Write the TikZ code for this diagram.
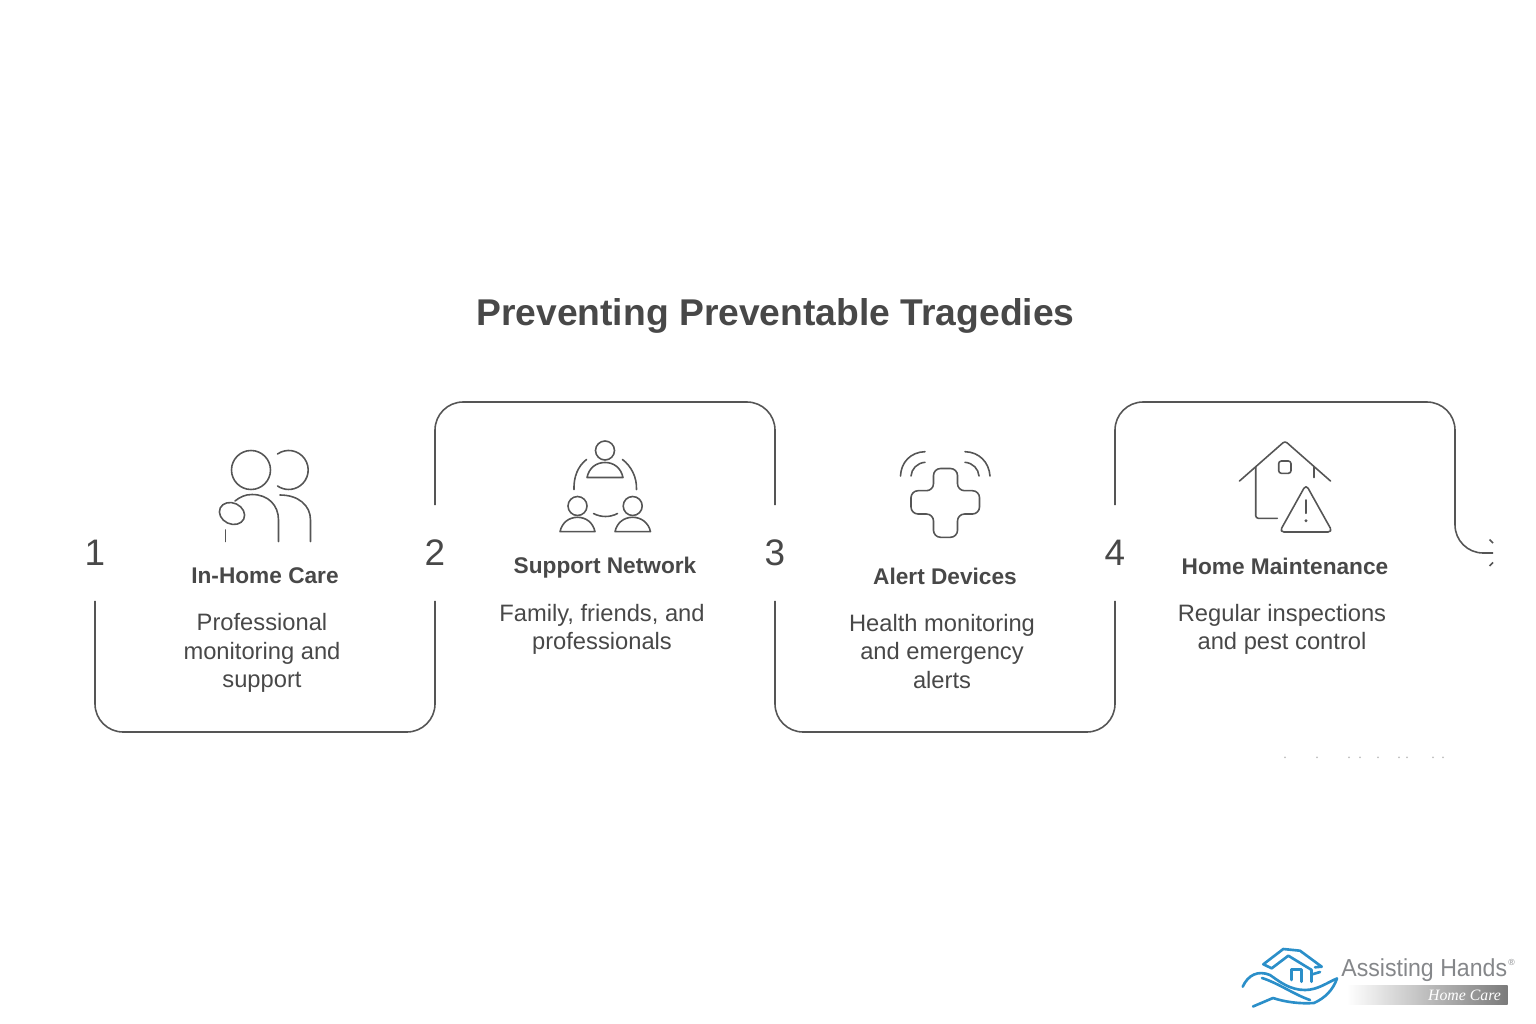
\documentclass[tikz,border=0pt]{standalone}
\usepackage{fontspec}
\setmainfont{Liberation Sans}
\newfontfamily\careserif{Liberation Serif}
\usepackage{xcolor}
\usetikzlibrary{positioning}
\definecolor{ink}{HTML}{484848}
\definecolor{wire}{HTML}{555555}
\definecolor{logoblue}{HTML}{2B8FC9}
\definecolor{logogray}{HTML}{85878A}
\tikzset{num/.style={minimum width=1cm,minimum height=1.9cm,inner sep=0,text=ink,font=\fontsize{21}{24}\selectfont},
    head/.style={text=ink,inner sep=0,font=\fontsize{12.9}{16}\selectfont\bfseries},
    body/.style={text=ink,inner sep=0,align=center,font=\fontsize{13.5}{16.2}\selectfont},
    wireline/.style={draw=wire,line width=0.9pt},
    icon/.style={draw=wire,line width=0.9pt,line cap=round,line join=round},
    logoline/.style={draw=logoblue,line width=1.5pt,line join=round,line cap=round}}

\begin{document}
\begin{tikzpicture}[x=0.02cm,y=0.02cm,>=stealth]
        \useasboundingbox (0,0) rectangle (1536,-1024);
        \node[text=ink,inner sep=0,font=\fontsize{21.2}{26}\selectfont\bfseries] (title)at (775.5,-316) {Preventing Preventable Tragedies};

        \node[num] (a)at (95,-553) {1};
        \node[num] (b)at (435,-553) {2};
        \node[num] (c)at (775,-553) {3};
        \node[num] (d)at (1115,-553) {4};
        \coordinate (low) at (0,-732);
        \coordinate (top) at (0,-402);
        \coordinate (tip) at (1493,-553);
        \coordinate (tipa) at (1489.5,-539.5);
        \coordinate (tipb) at (1489.5,-566);

        \draw [wireline,rounded corners=16pt] (a.south) -- (a.south |- low) -- (b.south |- low) -- (b.south);
        \draw [wireline,rounded corners=16pt] (b.north) -- (b.north |- top) -- (c.north |- top) -- (c.north);
        \draw [wireline,rounded corners=16pt] (c.south) -- (c.south |- low) -- (d.south |- low) -- (d.south);
        \draw [wireline,rounded corners=16pt] (d.north) -- (d.north |- top) -- (1455,-402) -- (1455,-553) -- (tip);
        \draw [wireline] (tipa) -- (1493,-543);
        \draw [wireline] (tipb) -- (1493,-562.5);

        \node[head] (h1)at (265,-576) {In-Home Care};
        \node[head] (h2)at (605,-568) {Support Network};
        \node[head] (h3)at (945,-576) {Alert Devices};
        \node[head] (h4)at (1285,-566.5) {Home Maintenance};

        \node[body] (t1)at (262,-653) {Professional\\monitoring and\\support};
        \node[body] (t2)at (602,-629.5) {Family, friends, and\\professionals};
        \node[body] (t3)at (942,-651.5) {Health monitoring\\and emergency\\alerts};
        \node[body] (t4)at (1282,-629.5) {Regular inspections\\and pest control};

        % people
        \draw [icon] (251,-470) circle [radius=19.5];
        \draw [icon] (277.5,-454) arc [start angle=125,end angle=-125,radius=19.5];
        \draw [icon,rotate around={-25:(232,-513.5)}] (232,-513.5) ellipse [x radius=13,y radius=10.5];
        \draw [icon] (235,-501) .. controls (240,-497) and (245,-494.5) .. (252,-494.5) .. controls (268,-494.5) and (278.5,-505) .. (278.5,-520) -- (278.5,-541.5);
        \draw [icon] (280,-495) .. controls (298,-495) and (310.5,-505) .. (310.5,-520) -- (310.5,-541.5);
        \draw [icon] (225.7,-530) -- (225.7,-541.5);

        % network
        \draw [icon] (605,-450.5) circle [radius=9.5];
        \draw [icon] (587,-477.5) .. controls (589,-468) and (596,-462.5) .. (605,-462.5) .. controls (614,-462.5) and (621,-468) .. (623,-477.5) -- cycle;
        \draw [icon] (586.5,-459.5) .. controls (578,-466) and (573.5,-477) .. (574,-489.5);
        \draw [icon] (622.5,-459.5) .. controls (631,-466) and (637,-477) .. (636.5,-489.5);
        \draw [icon] (577.5,-506) circle [radius=9.5];
        \draw [icon] (560,-531.7) .. controls (562,-522.5) and (569,-517.3) .. (577.5,-517.3) .. controls (586,-517.3) and (593,-522.5) .. (595,-531.7) -- cycle;
        \draw [icon] (632.7,-506) circle [radius=9.5];
        \draw [icon] (615,-531.7) .. controls (617,-522.5) and (624,-517.3) .. (632.7,-517.3) .. controls (641,-517.3) and (648.5,-522.5) .. (650.5,-531.7) -- cycle;
        \draw [icon] (593.5,-513.5) .. controls (601,-517.5) and (610,-517.5) .. (617.5,-513.5);

        % cross
        \draw [icon,rounded corners=4pt] (933.5,-468.5) -- (957.5,-468.5) -- (957.5,-490.7) -- (979.5,-490.7) -- (979.5,-514) -- (957.5,-514) -- (957.5,-537.3) -- (933.5,-537.3) -- (933.5,-514) -- (911,-514) -- (911,-490.7) -- (933.5,-490.7) -- cycle;
        \draw [icon] (900.5,-476) .. controls (901,-462) and (911,-452) .. (925,-451.7);
        \draw [icon] (911,-476) .. controls (911.5,-469) and (917,-463) .. (925,-462.3);
        \draw [icon] (965,-451.7) .. controls (979,-452) and (989,-462) .. (990,-476);
        \draw [icon] (965,-462.3) .. controls (973,-463) and (978.5,-469) .. (979,-476);

        % house
        \draw [icon,rounded corners=1.5pt] (1239.5,-481) -- (1285,-441) -- (1330.5,-481);
        \draw [icon,rounded corners=1.5pt] (1255.7,-467) -- (1255.7,-518.3) -- (1277.3,-518.3);
        \draw [icon] (1314,-467) -- (1314,-477.5);
        \draw [icon,rounded corners=1.5pt] (1278.7,-461) rectangle (1291,-473.3);
        \draw [icon,rounded corners=2.5pt] (1306,-484.5) -- (1332.5,-532) -- (1279.5,-532) -- cycle;
        \draw [icon] (1306,-500) -- (1306,-513.3);
        \fill [wire] (1306,-520.7) circle [radius=1.6];

        % specks
        \foreach \sx in {1285,1317,1349,1360,1378,1399,1407,1433,1443}
            \fill [black!25] (\sx,-757.3) circle [radius=1];

        % logo
        \draw [logoline] (1271.7,-968.3) -- (1263.3,-964.3) -- (1283.3,-949) -- (1300,-950.7) -- (1321.7,-966.7) -- (1315,-967.3);
        \draw [logoline] (1271.7,-968.3) -- (1288.3,-955.7) -- (1311.7,-970);
        \draw [logoline] (1291.7,-980) -- (1291.7,-969.3) -- (1301.7,-969.3) -- (1301.7,-981.7);
        \draw [logoline] (1311.7,-970) -- (1311.7,-981.7);
        \draw [logoline] (1311.7,-974.5) -- (1320,-972);
        \draw [logoline] (1242.7,-986.7) .. controls (1248,-975) and (1258,-970) .. (1270,-975) .. controls (1280,-982) and (1290,-990) .. (1305,-990) .. controls (1318,-990) and (1328,-982) .. (1337,-978.5);
        \draw [logoline] (1337,-978.5) .. controls (1333,-990) and (1325,-998) .. (1314,-1003) .. controls (1300,-1004) and (1285,-1002) .. (1273,-998) -- (1253,-1006.5);
        \draw [logoline] (1262,-978) .. controls (1278,-983) and (1295,-995) .. (1310,-1000);
        \node[text=logogray,anchor=west,inner sep=0,xscale=0.94,font=\fontsize{14}{16}\selectfont] (hands)at (1341,-970) {Assisting Hands};
        \node[text=logogray,inner sep=0,font=\fontsize{5}{5}\selectfont] (reg)at (1511.5,-962) {®};
        \node[minimum width=3.22cm,minimum height=0.37cm,inner sep=0,left color=white,right color=black!52] (bar)at (1427.2,-995) {};
        \node[text=white,inner sep=0,font=\fontsize{9}{11}\selectfont\careserif\itshape] (care)at (1464.5,-995.5) {Home Care};
    \end{tikzpicture}
\end{document}
